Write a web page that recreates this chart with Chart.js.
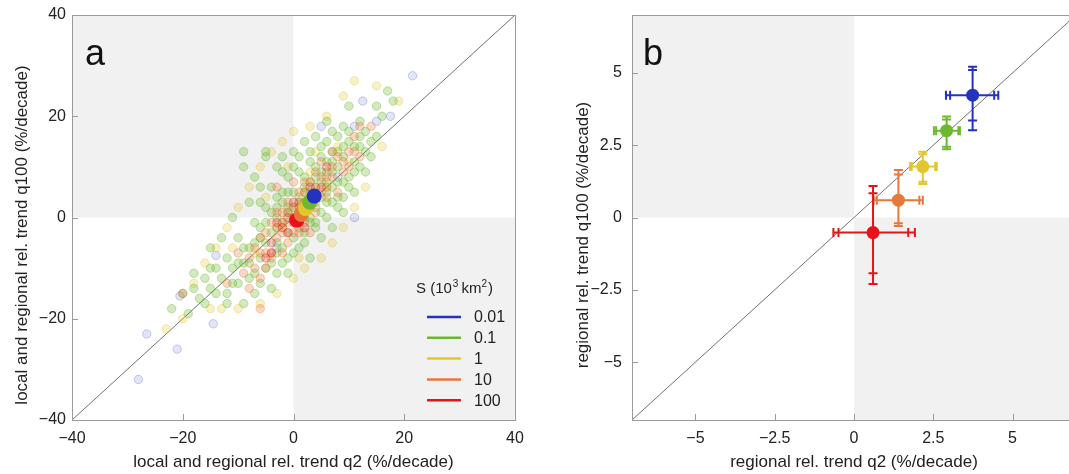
<!DOCTYPE html>
<html>
<head>
<meta charset="utf-8">
<title>q2 vs q100 trends</title>
<script src="https://cdn.jsdelivr.net/npm/chart.js@4.4.1/dist/chart.umd.min.js"></script>
<style>
  html, body { margin: 0; padding: 0; background: #fff; overflow: hidden; }
  #wrap { position: relative; width: 1069px; height: 474px; overflow: hidden; }
  #cva  { position: absolute; left: 0; top: 0; }
  #cvb  { position: absolute; left: 540px; top: 0; }
</style>
</head>
<body>
<div id="wrap">
  <canvas id="cva" width="535" height="474"></canvas>
  <canvas id="cvb" width="545" height="474"></canvas>
</div>
<script>
// ── DATA ───────────────────────────────────────────────
var sizeLabels = ['0.01', '0.1', '1', '10', '100'];
var sizeColors = ['#2433bd', '#6cb92f', '#e3c62b', '#e5783b', '#e8121b'];

// regional mean trends (%/decade), one per catchment size class
var meanQ2   = [3.74, 2.92, 2.17, 1.40, 0.60];
var meanQ100 = [4.23, 3.00, 1.76, 0.60, -0.52];

// inner / outer uncertainty ranges, panel b
var q2InLo    = [3.03, 2.59, 1.82, 0.72, -0.49];
var q2InHi    = [4.42, 3.29, 2.56, 2.06, 1.71];
var q2OutLo   = [2.90, 2.52, 1.77, 0.62, -0.65];
var q2OutHi   = [4.55, 3.34, 2.61, 2.17, 1.92];
var q100InLo  = [3.35, 2.45, 1.24, -0.20, -1.93];
var q100InHi  = [5.10, 3.39, 2.19, 1.49, 0.84];
var q100OutLo = [3.02, 2.36, 1.16, -0.29, -2.30];
var q100OutHi = [5.21, 3.49, 2.27, 1.64, 1.09];

// local trends, panel a  [q2, q100]
var cloudBlue = [[15,19],[17.5,20],[12.5,23],[11,18],[5,18],[11,0],[-14,-7.5],[-20.5,-15.5],
  [-14.5,-21],[-26.5,-23],[-21,-26],[-28,-32],[21.5,28],[8,8],[-3,-6]];
var cloudYellow = [[-16,-9],[-14,-6],[-12,-2],[-10,2],[-8,6],[-6,10],[-4,13],[-2,15],[0,17],[3,18],
  [6,20],[9,24],[11,27],[15,26],[16,14],[13,6],[11,2],[9,-2],[7,-5],[5,-8],[2,-10],[0,-12],
  [-3,-15],[-6,-17],[-10,-18],[-13,-18],[-18,-13],[-20,-20],[-5,4],[-1,10],[4,13],[8,14],
  [10,11],[6,6],[3,9],[-2,-2],[1,-8],[-7,-7],[-11,-6],[-15,-18],[-23,-22],[19,23]];
var cloudGreen = [[-2,-1],[0,2],[1,4],[3,5],[4,2],[5,7],[6,9],[2,8],[-1,5],[-3,0],[-4,-3],[-5,-5],
  [-6,-2],[-2,-6],[0,-4],[1,-2],[3,0],[6,3],[7,6],[8,10],[9,12],[10,8],[7,13],[5,12],[4,10],
  [3,11],[1,9],[-1,8],[-3,4],[-5,2],[-7,-1],[-8,-6],[-9,-9],[-6,-8],[-4,-9],[-3,-5],[-1,-8],
  [2,-5],[4,-2],[6,0],[8,4],[9,7],[11,11],[12,14],[10,15],[8,16],[6,15],[11,5],[13,9],[14,12],
  [-10,-4],[-11,-10],[-12,-8],[-13,-12],[-10,-13],[-8,-12],[-7,-15],[-9,-17],[-12,-15],
  [-15,-14],[-14,-10],[-16,-12],[-17,-16],[-18,-11],[-20,-15],[-19,-19],[-22,-18],[-7,8],
  [-9,10],[-5,12],[-3,10],[-8,3],[0,13],[2,15],[4,16],[6,19],[9,18],[12,19],[13,17],[15,16],
  [15,22],[16,20],[17,25],[18,23],[10,22],[-2,12],[-6,6],[-11,0],[-13,-4],[-15,-6],[5,-4],
  [7,-2],[9,1],[3,-8],[-1,-11],[-4,-14],[1,-6],[0,0],[2,3],[3,2],[1,1],[-1,2],[4,6],[5,4],
  [2,6],[-2,3],[-3,-2],[7,9],[8,7],[-9,13],[-5,13],
  [-1,1],[1,3],[2,5],[3,7],[4,8],[5,9],[6,11],[7,11],[8,13],[9,14],[10,17],[11,14],[12,16],
  [0,5],[-2,5],[-3,2],[-4,1],[-5,-1],[-6,-4],[-7,-5],[-8,-9],[-9,-6],[-10,-9],[-11,-13],
  [-7,-11],[-5,-10],[-2,-9],[0,-7],[2,-3],[4,-1],[5,1],[6,5],[7,3],[8,2],[9,4],[10,6],[11,9],
  [12,10],[13,13],[14,15],[-4,6],[-6,3],[-2,9],[0,10],[1,12],[3,13],[5,14],[7,17],[-6,-13],
  [-3,-11],[-14,-15],[-16,-17],[-12,-17],[-18,-14],[-15,-10],[2,0],[3,-1],[-1,-3],[-3,-7],
  [4,4],[6,7]];
var cloudOrange = [[0,0],[1,1],[2,3],[3,4],[-1,-1],[-2,-3],[4,6],[5,5],[6,8],[3,7],[1,5],[-1,3],
  [-3,-4],[-4,-1],[-5,-7],[-6,-4],[7,10],[8,12],[9,9],[10,13],[2,-1],[4,1],[6,4],[-2,1],
  [-4,-7],[-4,-8],[-7,-10],[-9,-11],[-8,-14],[-6,-12],[11,16],[12,12],[5,11],[0,7],[-3,6],
  [-1,-5],[3,-3],[1,-3],[8,5],[-10,-7],[-12,-13],[-20,-15],[-6,-18],[14,18],[12,18],
  [0,2],[1,3],[2,5],[3,2],[4,3],[5,8],[6,6],[7,8],[-1,1],[-2,-1],[-3,-2],[-3,1],[-5,-3],
  [-6,-7],[-7,-6],[2,7],[4,9],[9,11],[10,10],[-2,-7],[0,-3],[1,-1],[-8,-8],[-5,-10],[7,13],
  [11,13]];
var cloudRed = [[0,-1],[1,0],[2,1],[-1,0],[3,3],[-2,-2],[4,4],[1,2],[0,3],[2,-2],[-3,-1],[5,6],
  [-4,-5],[-4,-7],[-5,-8],[6,10],[-1,-3],[3,6]];

var ticksA = [-40, -20, 0, 20, 40];
var ticksB = [-5, -2.5, 0, 2.5, 5];

// ── UTILIDADES ─────────────────────────────────────────
var FONT = '"Liberation Sans", Arial, Helvetica, sans-serif';

function rgba(hex, a) {
  var n = parseInt(hex.slice(1), 16);
  return 'rgba(' + (n >> 16) + ',' + ((n >> 8) & 255) + ',' + (n & 255) + ',' + a + ')';
}
function pts(list) { return list.map(function (p) { return { x: p[0], y: p[1] }; }); }
function fmtTick(v) { return String(v).replace('-', '\u2212'); }

// ── PLUGIN: shading, frame, ticks, titles, extras ──────
var panelPlugin = {
  id: 'panel',
  beforeDatasetsDraw: function (chart, args, o) {
    var ctx = chart.ctx, a = chart.chartArea;
    var sx = chart.scales.x, sy = chart.scales.y;
    var x0 = sx.getPixelForValue(0), y0 = sy.getPixelForValue(0);
    ctx.save();
    ctx.fillStyle = '#f1f1f1';
    ctx.fillRect(a.left, a.top, x0 - a.left, y0 - a.top);
    ctx.fillRect(x0, y0, a.right - x0, a.bottom - y0);

    // diagonal 1:1
    ctx.strokeStyle = '#707070';
    ctx.lineWidth = 1;
    ctx.beginPath();
    ctx.moveTo(sx.getPixelForValue(o.min), sy.getPixelForValue(o.min));
    ctx.lineTo(sx.getPixelForValue(o.max), sy.getPixelForValue(o.max));
    ctx.stroke();

    if (o.errorBars) {
      ctx.lineWidth = 2;
      meanQ2.forEach(function (mx, i) {
        var py = sy.getPixelForValue(meanQ100[i]);
        var px = sx.getPixelForValue(mx);
        ctx.strokeStyle = sizeColors[i];
        ctx.beginPath();
        // horizontal bar + caps
        ctx.moveTo(sx.getPixelForValue(q2OutLo[i]), py);
        ctx.lineTo(sx.getPixelForValue(q2OutHi[i]), py);
        [q2InLo[i], q2InHi[i], q2OutLo[i], q2OutHi[i]].forEach(function (v) {
          var cx = sx.getPixelForValue(v);
          ctx.moveTo(cx, py - 4.5); ctx.lineTo(cx, py + 4.5);
        });
        // vertical bar + caps
        ctx.moveTo(px, sy.getPixelForValue(q100OutLo[i]));
        ctx.lineTo(px, sy.getPixelForValue(q100OutHi[i]));
        [q100InLo[i], q100InHi[i], q100OutLo[i], q100OutHi[i]].forEach(function (v) {
          var cy = sy.getPixelForValue(v);
          ctx.moveTo(px - 4.5, cy); ctx.lineTo(px + 4.5, cy);
        });
        ctx.stroke();
      });
    }
    ctx.restore();
  },
  afterDraw: function (chart, args, o) {
    var ctx = chart.ctx, a = chart.chartArea;
    var sx = chart.scales.x, sy = chart.scales.y;
    ctx.save();
    // frame
    ctx.strokeStyle = '#9a9a9a';
    ctx.lineWidth = 1;
    ctx.strokeRect(Math.round(a.left) + 0.5, Math.round(a.top) + 0.5,
                   Math.round(a.right - a.left), Math.round(a.bottom - a.top));
    // inward ticks
    ctx.beginPath();
    o.ticks.forEach(function (v) {
      var x = Math.round(sx.getPixelForValue(v)) + 0.5;
      ctx.moveTo(x, a.bottom); ctx.lineTo(x, a.bottom - 6);
      var y = Math.round(sy.getPixelForValue(v)) + 0.5;
      ctx.moveTo(a.left, y); ctx.lineTo(a.left + 6, y);
    });
    ctx.stroke();

    // axis titles
    ctx.fillStyle = '#222';
    ctx.font = '17px ' + FONT;
    ctx.textAlign = 'center';
    ctx.textBaseline = 'middle';
    ctx.fillText(o.xTitle, (a.left + a.right) / 2, 462);
    ctx.save();
    ctx.translate(o.yTitleX, 235);
    ctx.rotate(-Math.PI / 2);
    ctx.fillText(o.yTitle, 0, 0);
    ctx.restore();

    // panel letter
    ctx.font = '36px ' + FONT;
    ctx.textAlign = 'left';
    ctx.textBaseline = 'alphabetic';
    ctx.fillStyle = '#111';
    ctx.fillText(o.letter, o.letterX, 65);

    // legend (panel a)
    if (o.legend) {
      ctx.fillStyle = '#222';
      ctx.font = '15px ' + FONT;
      var x = 416, y = 293;
      ctx.fillText('S (10', x, y); x += ctx.measureText('S (10').width + 1;
      ctx.font = '10px ' + FONT; ctx.fillText('3', x, y - 6); x += ctx.measureText('3').width + 3;
      ctx.font = '15px ' + FONT; ctx.fillText('km', x, y); x += ctx.measureText('km').width;
      ctx.font = '10px ' + FONT; ctx.fillText('2', x, y - 6); x += ctx.measureText('2').width + 1;
      ctx.font = '15px ' + FONT; ctx.fillText(')', x, y);

      ctx.font = '16px ' + FONT;
      ctx.textBaseline = 'middle';
      ctx.lineWidth = 2.5;
      sizeLabels.forEach(function (lbl, i) {
        var ry = 317 + i * 20.8;
        ctx.strokeStyle = sizeColors[i];
        ctx.beginPath(); ctx.moveTo(427, ry); ctx.lineTo(461, ry); ctx.stroke();
        ctx.fillText(lbl, 474, ry + 1);
      });
    }
    ctx.restore();
  }
};

// ── OPCIONES ───────────────────────────────────────────
function makeOptions(cfg) {
  var tickFont = { family: FONT, size: 16 };
  function fixTicks(s) { s.ticks = cfg.ticks.map(function (v) { return { value: v }; }); }
  return {
    responsive: false,
    devicePixelRatio: 1,
    animation: false,
    layout: { padding: cfg.padding },
    plugins: { legend: { display: false }, tooltip: { enabled: false }, panel: cfg },
    scales: {
      x: {
        type: 'linear', min: cfg.min, max: cfg.max,
        grid: { display: false, drawTicks: false }, border: { display: false },
        afterBuildTicks: fixTicks,
        afterFit: function (s) { s.height = 54; s.paddingLeft = 0; s.paddingRight = 0; },
        ticks: { padding: 9, color: '#222', font: tickFont, maxRotation: 0, autoSkip: false, callback: fmtTick }
      },
      y: {
        type: 'linear', min: cfg.min, max: cfg.max,
        grid: { display: false, drawTicks: false }, border: { display: false },
        afterBuildTicks: fixTicks,
        afterFit: function (s) { s.width = cfg.yAxisW; s.paddingTop = 0; s.paddingBottom = 0; },
        ticks: { padding: cfg.yPad, color: '#222', font: tickFont, autoSkip: false, callback: fmtTick }
      }
    }
  };
}

function cloudSet(list, i, alpha, order) {
  return {
    data: pts(list), order: order,
    pointRadius: 4.2, pointBorderWidth: 1,
    backgroundColor: rgba(sizeColors[i], alpha),
    borderColor: rgba(sizeColors[i], alpha + 0.1)
  };
}

function meanSets(radius) {
  return meanQ2.map(function (mx, i) {
    return {
      data: [{ x: mx, y: meanQ100[i] }], order: i + 1,
      pointRadius: radius, pointBorderWidth: 0,
      backgroundColor: sizeColors[i], borderColor: sizeColors[i]
    };
  }).reverse();
}

// ── PANEL A ────────────────────────────────────────────
new Chart(document.getElementById('cva').getContext('2d'), {
  type: 'scatter',
  data: {
    datasets: [
      cloudSet(cloudBlue, 0, 0.13, 14),
      cloudSet(cloudYellow, 2, 0.26, 13),
      cloudSet(cloudGreen, 1, 0.3, 12),
      cloudSet(cloudOrange, 3, 0.28, 11),
      cloudSet(cloudRed, 4, 0.24, 10)
    ].concat(meanSets(7.5))
  },
  options: makeOptions({
    min: -40, max: 40, ticks: ticksA, padding: { left: 0, right: 20, top: 15, bottom: 0 },
    yAxisW: 72, yPad: 6, letter: 'a', letterX: 85, yTitleX: 22, legend: true,
    xTitle: 'local and regional rel. trend q2 (%/decade)',
    yTitle: 'local and regional rel. trend q100 (%/decade)'
  }),
  plugins: [panelPlugin]
});

// ── PANEL B ────────────────────────────────────────────
new Chart(document.getElementById('cvb').getContext('2d'), {
  type: 'scatter',
  data: { datasets: meanSets(6.5) },
  options: makeOptions({
    min: -7, max: 7, ticks: ticksB, padding: { left: 0, right: 9, top: 15, bottom: 0 },
    yAxisW: 92, yPad: 10, letter: 'b', letterX: 103, yTitleX: 43, errorBars: true,
    xTitle: 'regional rel. trend q2 (%/decade)',
    yTitle: 'regional rel. trend q100 (%/decade)'
  }),
  plugins: [panelPlugin]
});
</script>
</body>
</html>
